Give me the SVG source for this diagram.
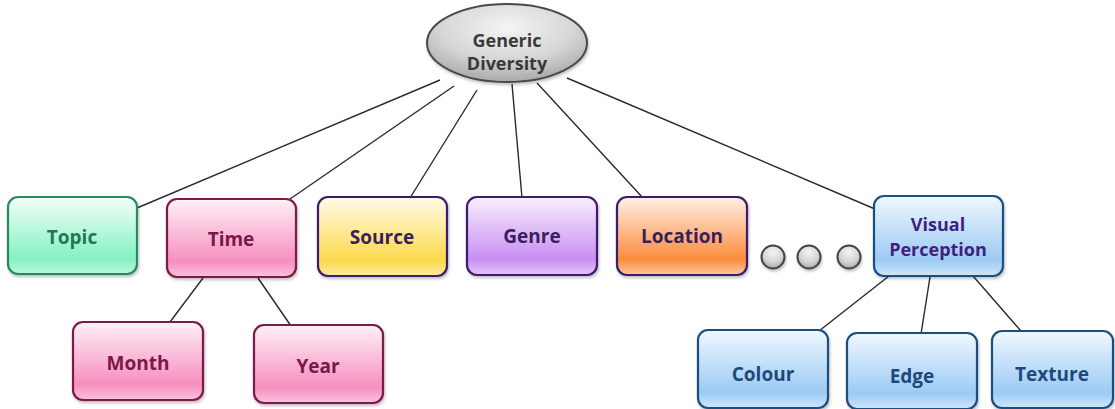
<svg xmlns="http://www.w3.org/2000/svg" width="1115" height="409" viewBox="0 0 1115 409">
<defs>
<linearGradient id="gGreen" x1="0" y1="0" x2="0" y2="1"><stop offset="0" stop-color="#f2fff9"/><stop offset="0.8" stop-color="#86f0c4"/><stop offset="1" stop-color="#b8f7dc"/></linearGradient>
<linearGradient id="gPink" x1="0" y1="0" x2="0" y2="1"><stop offset="0" stop-color="#fff0f6"/><stop offset="0.8" stop-color="#f68fbf"/><stop offset="1" stop-color="#fbc2dc"/></linearGradient>
<linearGradient id="gYellow" x1="0" y1="0" x2="0" y2="1"><stop offset="0" stop-color="#fffbea"/><stop offset="0.8" stop-color="#fbd94c"/><stop offset="1" stop-color="#fdeaa0"/></linearGradient>
<linearGradient id="gPurple" x1="0" y1="0" x2="0" y2="1"><stop offset="0" stop-color="#f8f0ff"/><stop offset="0.8" stop-color="#c98ef2"/><stop offset="1" stop-color="#e2c6f8"/></linearGradient>
<linearGradient id="gOrange" x1="0" y1="0" x2="0" y2="1"><stop offset="0" stop-color="#fff0e6"/><stop offset="0.8" stop-color="#fb8c3e"/><stop offset="1" stop-color="#fdc8a0"/></linearGradient>
<linearGradient id="gBlue" x1="0" y1="0" x2="0" y2="1"><stop offset="0" stop-color="#f0f8ff"/><stop offset="0.8" stop-color="#9ccaf4"/><stop offset="1" stop-color="#cfe6fb"/></linearGradient>
<radialGradient id="gGray" cx="0.5" cy="0.3" r="0.7"><stop offset="0" stop-color="#f4f4f4"/><stop offset="0.6" stop-color="#d6d6d6"/><stop offset="1" stop-color="#a9a9a9"/></radialGradient>
<filter id="sh" x="-10%" y="-10%" width="120%" height="130%"><feDropShadow dx="1" dy="2" stdDeviation="1.5" flood-color="#000" flood-opacity="0.25"/></filter>
</defs>
<style>
.box{stroke-width:2.2;filter:url(#sh)}
.t{font-family:"Open Sans","Liberation Sans",sans-serif;font-weight:bold;font-size:19px;text-anchor:middle}
.t2{font-size:18px}
.ln{stroke:#2a2a2a;stroke-width:1.4;fill:none}
</style>
<g id="connectors">
<line class="ln" x1="440" y1="80" x2="137" y2="208"/>
<line class="ln" x1="454" y1="86" x2="290" y2="199"/>
<line class="ln" x1="477" y1="90" x2="410" y2="198"/>
<line class="ln" x1="512" y1="84" x2="522" y2="198"/>
<line class="ln" x1="537" y1="83" x2="643" y2="198"/>
<line class="ln" x1="567" y1="78" x2="875" y2="209"/>
<line class="ln" x1="203" y1="278" x2="170" y2="322"/>
<line class="ln" x1="258" y1="278" x2="291" y2="326"/>
<line class="ln" x1="889" y1="276" x2="819" y2="331"/>
<line class="ln" x1="930" y1="277" x2="921" y2="334"/>
<line class="ln" x1="973" y1="276" x2="1021" y2="331"/>
</g>
<g id="generic-diversity">
<ellipse cx="507" cy="43" rx="80" ry="39" fill="url(#gGray)" stroke="#4a4a4a" stroke-width="2" filter="url(#sh)"/>
<text class="t t2" x="507" y="47" fill="#3a3a3a">Generic</text>
<text class="t t2" x="507" y="70" fill="#3a3a3a">Diversity</text>
</g>
<g id="topic">
<rect class="box" x="8" y="197" width="129" height="77" rx="10" fill="url(#gGreen)" stroke="#2a8a5e"/>
<text class="t" x="72" y="244" fill="#1e7a50">Topic</text>
</g>
<g id="time">
<rect class="box" x="167" y="199" width="129" height="78" rx="10" fill="url(#gPink)" stroke="#7a1a4a"/>
<text class="t" x="231" y="246" fill="#7a1848">Time</text>
</g>
<g id="source">
<rect class="box" x="318" y="197" width="129" height="79" rx="10" fill="url(#gYellow)" stroke="#3d1f6a"/>
<text class="t" x="382" y="244" fill="#3a1f5a">Source</text>
</g>
<g id="genre">
<rect class="box" x="467" y="197" width="130" height="78" rx="10" fill="url(#gPurple)" stroke="#3d1f6a"/>
<text class="t" x="532" y="243" fill="#3a1f5a">Genre</text>
</g>
<g id="location">
<rect class="box" x="617" y="197" width="130" height="78" rx="10" fill="url(#gOrange)" stroke="#3d1f6a"/>
<text class="t" x="682" y="243" fill="#3a1f5a">Location</text>
</g>
<g id="ellipsis">
<circle cx="773" cy="257" r="11.5" fill="url(#gGray)" stroke="#444" stroke-width="2" filter="url(#sh)"/>
<circle cx="809" cy="257" r="11.5" fill="url(#gGray)" stroke="#444" stroke-width="2" filter="url(#sh)"/>
<circle cx="849" cy="257" r="11.5" fill="url(#gGray)" stroke="#444" stroke-width="2" filter="url(#sh)"/>
</g>
<g id="visual-perception">
<rect class="box" x="874" y="196" width="129" height="80" rx="10" fill="url(#gBlue)" stroke="#1e4f80"/>
<text class="t t2" x="938" y="231" fill="#3f1f80">Visual</text>
<text class="t t2" x="938" y="256" fill="#3f1f80">Perception</text>
</g>
<g id="month">
<rect class="box" x="73" y="322" width="130" height="78" rx="10" fill="url(#gPink)" stroke="#7a1a4a"/>
<text class="t" x="138" y="370" fill="#7a1848">Month</text>
</g>
<g id="year">
<rect class="box" x="254" y="325" width="129" height="78" rx="10" fill="url(#gPink)" stroke="#7a1a4a"/>
<text class="t" x="318" y="373" fill="#7a1848">Year</text>
</g>
<g id="colour">
<rect class="box" x="698" y="330" width="130" height="78" rx="10" fill="url(#gBlue)" stroke="#1e4f80"/>
<text class="t" x="763" y="381" fill="#1e4a7a">Colour</text>
</g>
<g id="edge">
<rect class="box" x="847" y="333" width="130" height="76" rx="10" fill="url(#gBlue)" stroke="#1e4f80"/>
<text class="t" x="912" y="383" fill="#1e4a7a">Edge</text>
</g>
<g id="texture">
<rect class="box" x="992" y="331" width="121" height="77" rx="10" fill="url(#gBlue)" stroke="#1e4f80"/>
<text class="t" x="1052" y="381" fill="#1e4a7a">Texture</text>
</g>
</svg>
